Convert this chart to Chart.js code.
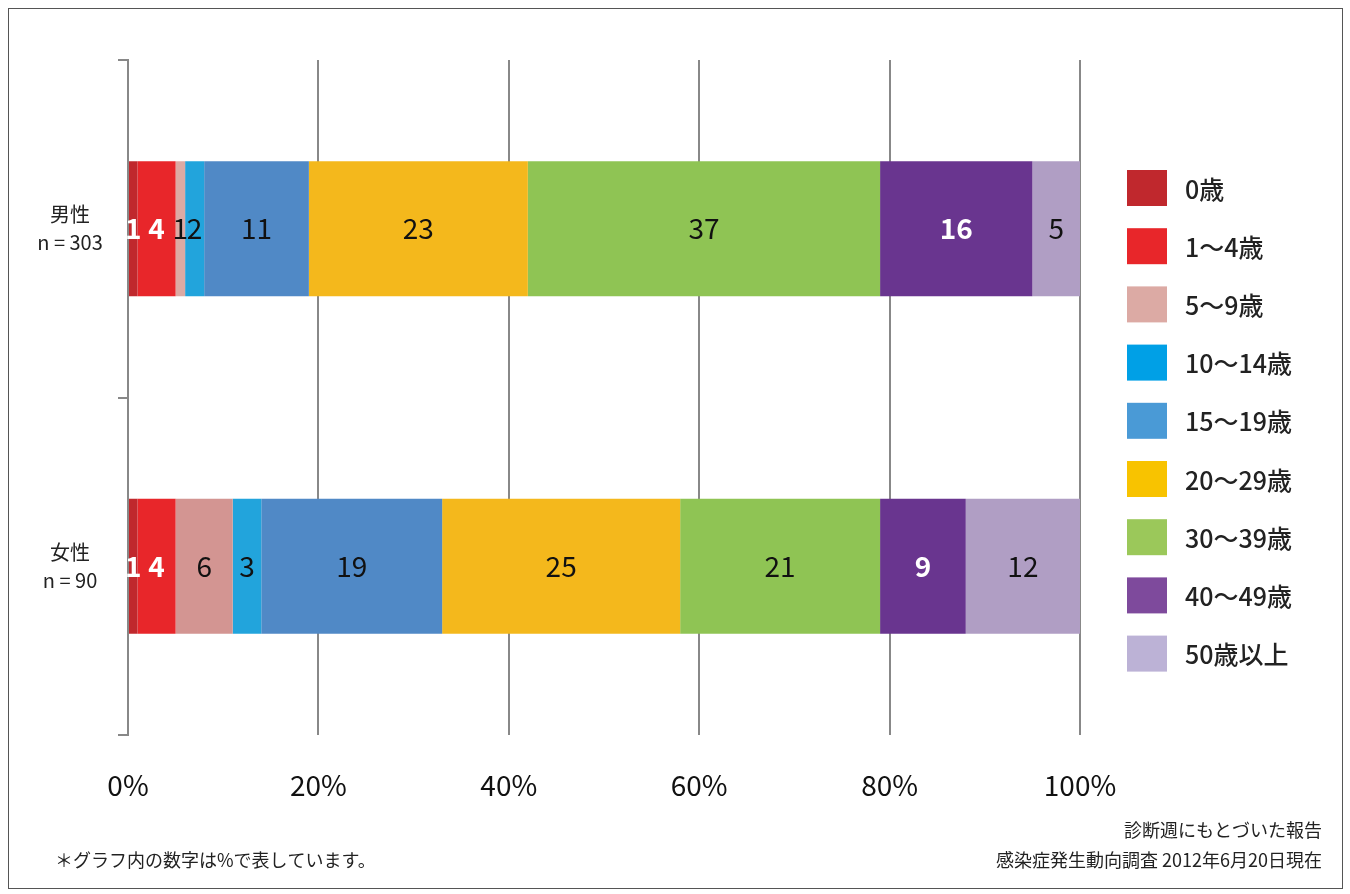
<!DOCTYPE html>
<html><head><meta charset="utf-8">
<script src="https://cdn.jsdelivr.net/npm/chart.js@4"></script>
<style>html,body{margin:0;padding:0;background:#fff;}#w{width:1350px;height:894px;}</style>
</head><body><div id="w"><canvas id="c" width="1350" height="894"></canvas></div>
<script>
const categories = [["男性","n = 303"],["女性","n = 90"]];
const seriesNames = ["0歳","1〜4歳","5〜9歳","10〜14歳","15〜19歳","20〜29歳","30〜39歳","40〜49歳","50歳以上"];
const maleValues =   [1,4,1,2,11,23,37,16,5];
const femaleValues = [1,4,6,3,19,25,21,9,12];
const tickLabels = ["0%","20%","40%","60%","80%","100%"];
const colors = ["#c0282d","#e8262a",["#dcaaa4","#d39592"],"#22a4dc","#5089c6","#f4b81c","#8fc454","#69358f","#b09ec4"];
const legendColors = ["#c0282d","#e8262a","#dcaaa4","#00a0e6","#4a9ad6","#f8c300","#9bc85a","#7e4a9c","#bcb2d6"];
const whiteLabel = [true,true,false,false,false,false,false,true,false];
const F = "'Noto Sans CJK JP','Noto Sans',sans-serif";

const datasets = seriesNames.map((n,i)=>({label:n,data:[maleValues[i],femaleValues[i]],backgroundColor:colors[i],borderWidth:0,barPercentage:0.4,categoryPercentage:1}));

const deco = {
  id:'deco',
  afterDatasetsDraw(chart){
    const ctx=chart.ctx;
    ctx.save();
    ctx.textAlign='center';ctx.textBaseline='middle';
    chart.data.datasets.forEach((ds,i)=>{
      chart.getDatasetMeta(i).data.forEach((bar,j)=>{
        const v=ds.data[j];
        const x=(bar.base+bar.x)/2;
        ctx.fillStyle=whiteLabel[i]?'#fff':'#111';
        ctx.font=(whiteLabel[i]?'bold ':'')+'28px '+F;
        ctx.fillText(String(v),x,bar.y);
      });
    });
    ctx.restore();
  },
  afterDraw(chart){
    const ctx=chart.ctx;
    ctx.save();
    ctx.strokeStyle='#555';ctx.lineWidth=1;
    ctx.strokeRect(8.5,8.5,1334,880);
    const y=chart.scales.y;
    ctx.fillStyle='#222';ctx.font='20px '+F;ctx.textAlign='center';ctx.textBaseline='middle';
    categories.forEach((c,i)=>{
      const cy=y.getPixelForValue(i);
      ctx.fillText(c[0],70,cy-14);
      ctx.fillText(c[1],70,cy+14);
    });
    ctx.textAlign='left';ctx.font='500 25px '+F;
    seriesNames.forEach((n,i)=>{
      const cy=188+i*58.2;
      ctx.fillStyle=legendColors[i];
      ctx.fillRect(1127,cy-18,40,36);
      ctx.fillStyle='#222';
      ctx.fillText(n,1185,cy+1);
    });
    ctx.font='18px '+F;ctx.fillStyle='#222';
    ctx.fillText("＊グラフ内の数字は%で表しています。",55,860);
    ctx.textAlign='right';
    ctx.fillText("診断週にもとづいた報告",1322,830);
    ctx.fillText("感染症発生動向調査 2012年6月20日現在",1322,860);
    ctx.restore();
  }
};

new Chart(document.getElementById('c'),{
  type:'bar',
  data:{labels:categories.map(c=>c.join(' ')),datasets},
  options:{
    indexAxis:'y',responsive:false,animation:false,devicePixelRatio:1,
    layout:{padding:{top:60,right:270,left:0,bottom:0}},
    plugins:{legend:{display:false},tooltip:{enabled:false}},
    scales:{
      x:{stacked:true,min:0,max:100,
        afterFit(s){s.height=159;},
        ticks:{stepSize:20,padding:34,color:'#111',font:{size:28,family:F},callback:(v,i)=>tickLabels[i]},
        grid:{color:'#888',lineWidth:2,tickLength:0,drawTicks:false},border:{display:false}},
      y:{stacked:true,
        afterFit(s){s.width=128;},
        ticks:{display:false},
        grid:{offset:true,drawOnChartArea:false,tickLength:10,color:'#888',lineWidth:2},
        border:{color:'#888',width:2}}
    }
  },
  plugins:[deco]
});
</script></body></html>
